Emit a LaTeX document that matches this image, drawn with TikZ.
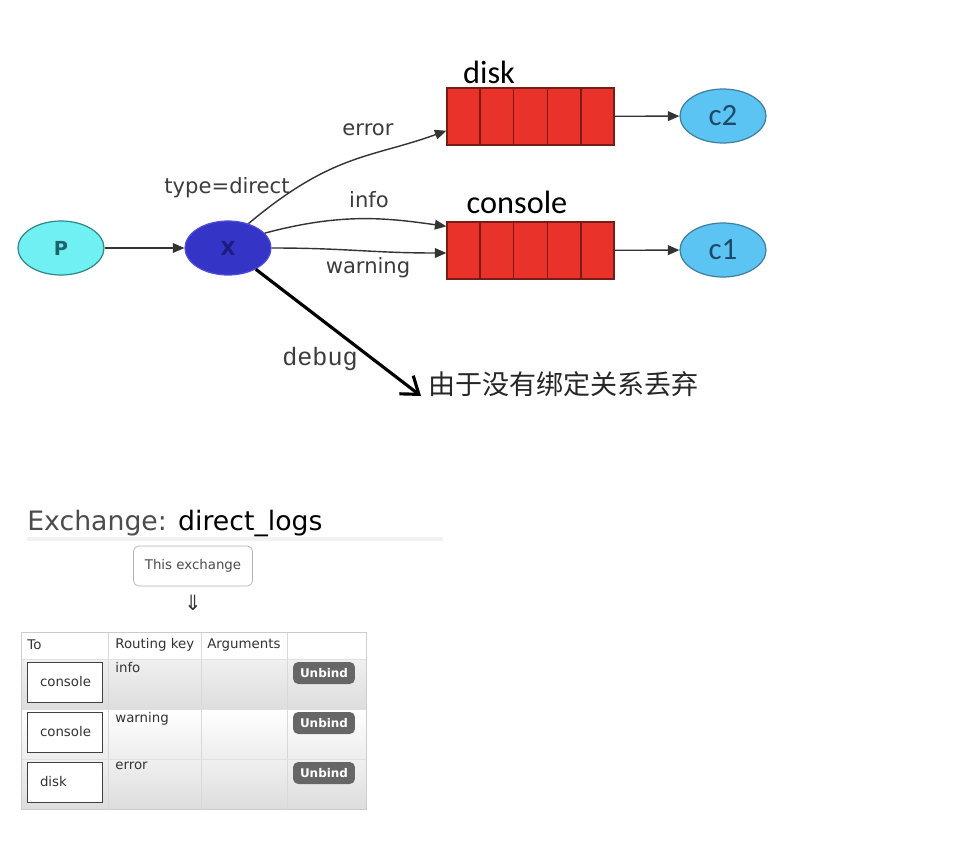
\documentclass[tikz,border=0pt]{standalone}
\usepackage{fontspec}
\setmainfont{DejaVu Sans}
\newfontfamily\qfont{Carlito}
\newfontfamily\keyfont{Liberation Mono}
\newfontfamily\cjk{Noto Sans CJK SC}
\usetikzlibrary{arrows.meta,calc,shapes.geometric}
\definecolor{prodfill}{HTML}{70F0F2}
\definecolor{prodline}{HTML}{2E8A8A}
\definecolor{prodtext}{HTML}{1F626A}
\definecolor{exfill}{HTML}{3434C6}
\definecolor{exline}{HTML}{4C4CE2}
\definecolor{extext}{HTML}{1C1C7C}
\definecolor{qred}{HTML}{E8322A}
\definecolor{qline}{HTML}{7A1C16}
\definecolor{consfill}{HTML}{5CC4F2}
\definecolor{consline}{HTML}{3F7F9F}
\definecolor{constext}{HTML}{1E4A6A}
\definecolor{lbl}{HTML}{3C3C3C}
\definecolor{rowtop}{HTML}{F0F0F0}
\definecolor{rowbot}{HTML}{DDDDDD}
\definecolor{rowlight}{HTML}{EDEDED}
\begin{document}
\begin{tikzpicture}[x=0.02cm, y=-0.02cm,
  ell/.style={draw,ellipse,minimum width=1.72cm,minimum height=1.08cm,inner sep=0pt,line width=0.7pt},
  que/.style={draw=qline,fill=qred,minimum width=3.34cm,minimum height=1.14cm,inner sep=0pt,line width=0.8pt},
  arr/.style={-{Triangle[length=6.5pt,width=5.5pt]},line width=0.8pt,draw=black!80},
  key/.style={text=lbl,font=\fontsize{12}{14}\selectfont},
  qlbl/.style={anchor=base,font=\qfont\fontsize{18.4}{20}\selectfont},
  cell/.style={font=\fontsize{7.6}{9}\selectfont,text=black!80},
  tobox/.style={cell,draw=black!75,fill=white,text width=0.98cm,inner xsep=0.26cm,minimum height=0.8cm,align=left},
  unbind/.style={fill=black!60,rounded corners=3pt,text=white,font=\bfseries\fontsize{6.8}{8}\selectfont,minimum width=1.24cm,minimum height=0.44cm,inner sep=0pt}]
\fill[white] (0,0) rectangle (971,852);
\useasboundingbox (0,0) rectangle (971,852);
% Routing
\node[ell,fill=prodfill,draw=prodline,text=prodtext,font=\bfseries\fontsize{11}{12}\selectfont] (P) at (61,248) {P};
\node[ell,fill=exfill,draw=exline,text=extext,font=\bfseries\fontsize{11}{12}\selectfont] (X) at (228,248) {X};
\node[que] (disk) at (530.5,116.5) {};
\node[que] (cons) at (530.5,250.5) {};
\foreach \q in {disk,cons} {
  \foreach \k in {1,...,4} {\draw[qline,line width=0.8pt] ($(\q.north west)!\k/5!(\q.north east)$) -- ($(\q.south west)!\k/5!(\q.south east)$);}}
\node[qlbl] (disklbl) at (489,83) {disk};
\node[qlbl] (conslbl) at (517,213) {console};
\node[ell,fill=consfill,draw=consline,text=constext,font=\qfont\fontsize{17.6}{19}\selectfont] (C2) at (723,116) {c2};
\node[ell,fill=consfill,draw=consline,text=constext,font=\qfont\fontsize{17.6}{19}\selectfont] (C1) at (723,250) {c1};
\coordinate (drop) at (421,396);
\draw[arr] (P) -- (X);
\draw[arr] (X.50) .. controls +(40:2.2cm) and +(200:1.6cm) .. ([yshift=0.3cm]disk.south west);
\draw[arr] (X.22) .. controls +(15:1.6cm) and +(172:1.2cm) .. ([yshift=-0.1cm]cons.north west);
\draw[arr] (X.east) .. controls +(0:1.5cm) and +(180:1.5cm) .. ([yshift=-0.05cm]cons.west);
\draw[arr] (disk) -- (C2);
\draw[arr] (cons) -- (C1);
\draw[-{Straight Barb[length=9pt,width=13pt]},line width=1.8pt] (X) -- (drop);
\node[key,anchor=base] (tlbl) at (227,193) {type=direct};
\node[key,anchor=base] (elbl) at (368,135) {error};
\node[key,anchor=base] (ilbl) at (369,207) {info};
\node[key,anchor=base] (wlbl) at (368,273) {warning};
\node[anchor=base,text=lbl,font=\keyfont\fontsize{14.3}{16}\selectfont] (dlbl) at (320,365) {debug};
\node[anchor=west,inner sep=0pt,text=black!85,font=\cjk\fontsize{15.4}{18}\selectfont] (droplbl) at (428,384) {由于没有绑定关系丢弃};
% Management page
\node[anchor=base west,inner sep=0pt,font=\fontsize{15.2}{18}\selectfont] (title) at (27,530) {\textcolor{black!70}{Exchange:} \textcolor{black}{direct\_logs}};
\draw[black!5,line width=2pt] (27,539) -- (443,539);
\node[draw=black!30,rounded corners=3pt,minimum width=2.38cm,minimum height=0.8cm,cell,text=black!70] (this) at (193,566) {This exchange};
\node[font=\fontsize{12}{14}\selectfont,text=black!80] (darr) at (193,603) {⇓};
\draw[black!20,fill=white] (21,632) rectangle (366,809);
\foreach \i/\q/\k/\tc/\bc in {0/console/info/rowtop/rowbot,1/console/warning/white/rowlight,2/disk/error/rowtop/rowbot} {
  \shade[top color=\tc,bottom color=\bc] (21,659+50*\i) rectangle (366,709+50*\i);
  \node[tobox] (to\i) at (64.5,682+50*\i) {\q};
  \node[cell,anchor=north west,inner sep=0pt] (rk\i) at (115,662+50*\i) {\k};
  \node[unbind] (ub\i) at (324,673+50*\i) {Unbind};
}
\foreach \x in {108,201,287} {\draw[black!15] (\x,632) -- (\x,809);}
\foreach \y in {659,709,759} {\draw[black!12] (21,\y) -- (366,\y);}
\draw[black!20] (21,632) rectangle (366,809);
\node[cell,anchor=west,inner sep=0pt] (hto) at (27,645) {To};
\node[cell,anchor=west,inner sep=0pt] (hrk) at (115,645) {Routing key};
\node[cell,anchor=west,inner sep=0pt] (harg) at (207,645) {Arguments};
\end{tikzpicture}
\end{document}
